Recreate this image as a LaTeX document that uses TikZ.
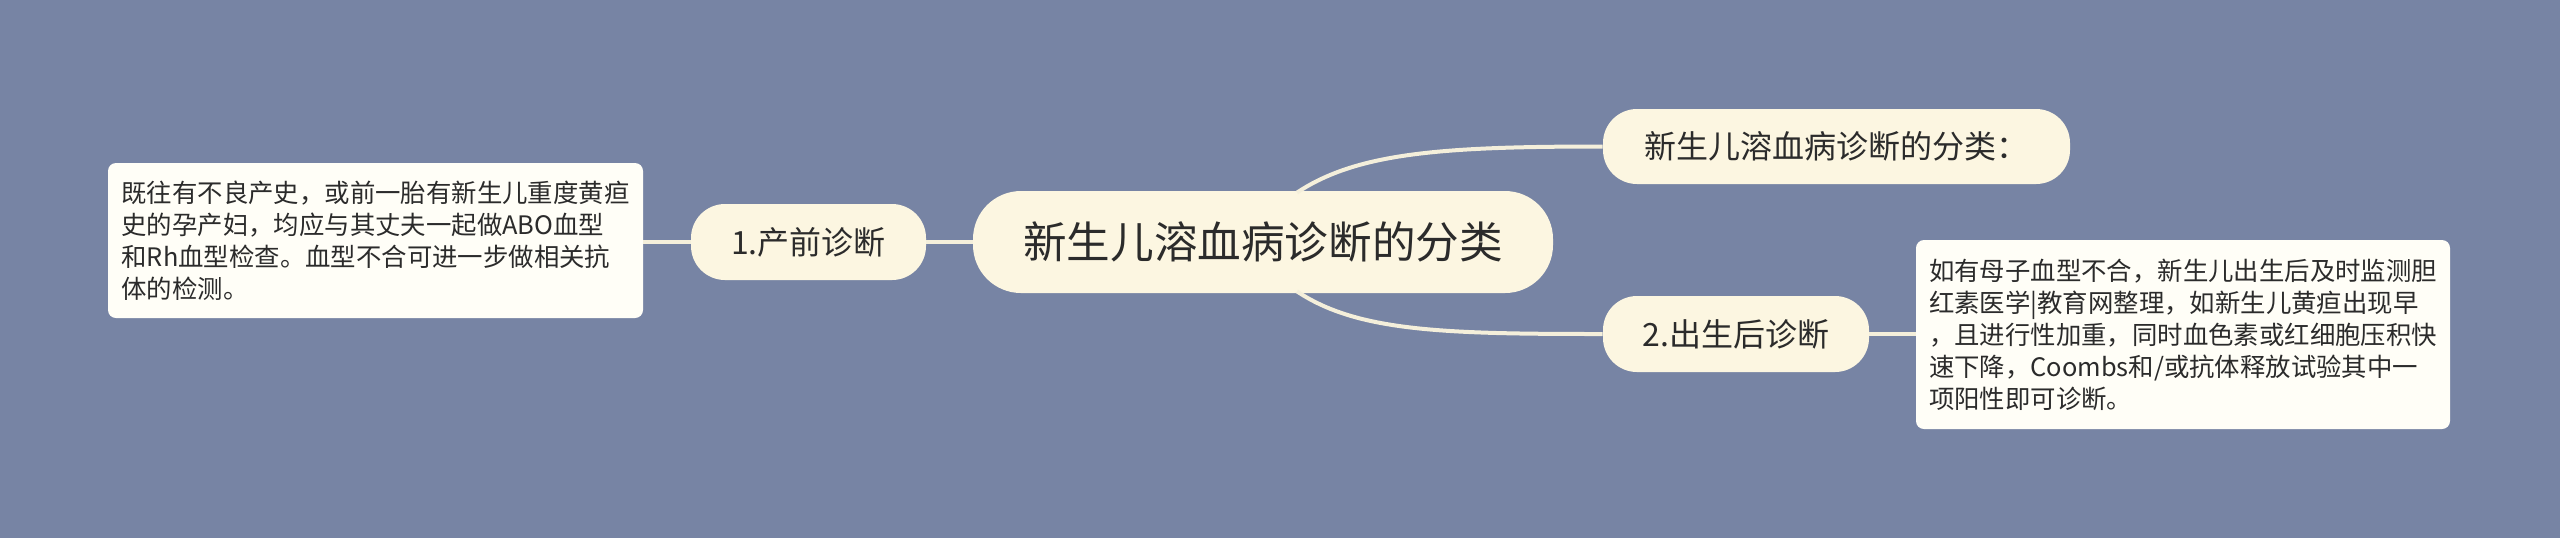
\documentclass[tikz,border=0pt]{standalone}
\usepackage{fontspec}
\setmainfont{Noto Sans CJK SC}
\usetikzlibrary{calc}
\definecolor{bgc}{HTML}{7784A4}
\definecolor{creamc}{HTML}{FCF6E1}
\definecolor{boxc}{HTML}{FFFEF7}
\definecolor{txtc}{HTML}{2B2B2B}
\definecolor{linec}{HTML}{F4EFDB}
\begin{document}
\begin{tikzpicture}[x=0.5pt,y=-0.5pt,
  rootnode/.style={fill=creamc,rounded corners=24pt,minimum width=290pt,minimum height=51pt,inner sep=0pt,text=txtc,font=\fontsize{21.8}{26}\selectfont},
  midnode/.style={fill=creamc,rounded corners=17pt,minimum height=38pt,inner sep=0pt,text=txtc,font=\fontsize{16}{20}\selectfont},
  textbox/.style={fill=boxc,rounded corners=4pt,inner sep=0pt,align=left,text=txtc,font=\fontsize{12.7}{16}\selectfont},
  conn/.style={draw=linec,line width=2pt}]
\fill[bgc] (0,0) rectangle (2560,538);
\useasboundingbox (0,0) rectangle (2560,538);

\node[rootnode] (root) at (1263,242) {新生儿溶血病诊断的分类};
\node[midnode,minimum width=117.5pt] (n1) at (808.5,242) {1.产前诊断};
\node[textbox,minimum width=267.5pt,minimum height=77.5pt] (t1) at (375.5,240.5) {既往有不良产史，或前一胎有新生儿重度黄疸\\史的孕产妇，均应与其丈夫一起做ABO血型\\和Rh血型检查。血型不合可进一步做相关抗\\体的检测。};
\node[midnode,minimum width=233.5pt,minimum height=37.5pt] (n2) at (1836.5,146.5) {新生儿溶血病诊断的分类：};
\node[midnode,minimum width=133pt] (n3) at (1736,334) {2.出生后诊断};
\node[textbox,minimum width=267pt,minimum height=94.5pt] (t3) at (2183,334.5) {如有母子血型不合，新生儿出生后及时监测胆\\红素医学|教育网整理，如新生儿黄疸出现早\\，且进行性加重，同时血色素或红细胞压积快\\速下降，Coombs和/或抗体释放试验其中一\\项阳性即可诊断。};

\coordinate (rs1) at ($(root.north)+(34,2)$);
\coordinate (rs2) at ($(root.south)+(34,-2)$);
\draw[conn] (rs1) .. controls ($(rs1)+(60,-40)$) and ($(n2.west)+(-160,0)$) .. (n2.west);
\draw[conn] (rs2) .. controls ($(rs2)+(60,40)$) and ($(n3.west)+(-160,0)$) .. (n3.west);
\draw[conn] (root.west) -- (root.west -| n1.east);
\draw[conn] (n1.west) -- (n1.west -| t1.east);
\draw[conn] (n3.east) -- (n3.east -| t3.west);
\end{tikzpicture}
\end{document}
